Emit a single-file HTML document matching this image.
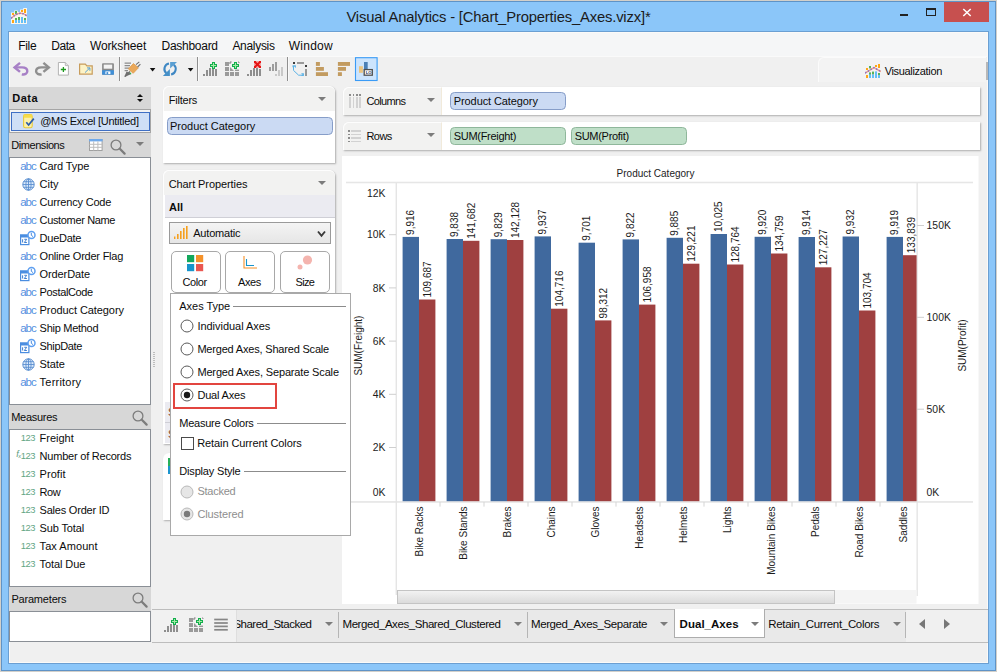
<!DOCTYPE html>
<html lang="en"><head><meta charset="utf-8"><title>Visual Analytics</title>
<style>
*{box-sizing:border-box;margin:0;padding:0}
html,body{width:997px;height:672px;overflow:hidden;background:#8bc6f9}
body{font-family:"Liberation Sans","DejaVu Sans",sans-serif;font-size:12px;color:#0c0c0c;position:relative}
.abs{position:absolute}
.t{position:absolute;white-space:nowrap;line-height:14px;height:14px}
#frame{position:absolute;left:0;top:0;width:997px;height:672px;border:1px solid #d3d0ca;background:#8bc6f9;box-shadow:inset 0 0 0 1px #5f93c6}
#content{position:absolute;left:9px;top:32px;width:979px;height:631px;background:#f0f0f0;outline:1px solid #6b9fd2;border:1px solid #fbfaf8}
#title{position:absolute;left:0;top:5px;width:997px;text-align:center;font-size:17.5px;line-height:22px;color:#1b1b1b;letter-spacing:-0.1px}
#menubar{position:absolute;left:10px;top:33px;width:977px;height:23px;background:#f5f6f7}
#toolbar{position:absolute;left:10px;top:56px;width:977px;height:27px;background:#f0f0f0;border-top:1px solid #fafafa}
.menu{position:absolute;top:39px;font-size:12.5px;line-height:14px;white-space:nowrap}
.sep{position:absolute;width:1px;background:#a9a9a9}
.hdr{position:absolute;background:#d7d7d7}
.list{position:absolute;background:#fff;border:1px solid #8a8f96}
.panel{position:absolute;background:#fff;border-radius:6px 6px 0 0;box-shadow:1px 1px 2px rgba(0,0,0,.28)}
.panel .ph{position:absolute;left:0;top:0;right:0;background:#f2f2f1;border-radius:6px 6px 0 0;border-top:1.5px solid #fdfdfd;border-left:1.5px solid #fdfdfd}
.pill{position:absolute;border-radius:4.5px;height:18px;line-height:15px;padding-left:2px;font-size:12px;white-space:nowrap;overflow:hidden}
.pill.b{background:#cbdaf3;border:1px solid #869dc8}
.pill.g{background:#bfdfc8;border:1px solid #8fb79b}
.dd{position:absolute;width:0;height:0;border-left:4px solid transparent;border-right:4px solid transparent;border-top:4.3px solid #7c7c7c}
.abc{color:#5b8fd0;font-size:11px;letter-spacing:-0.2px}
.num{color:#5aa37f;font-size:9px}
</style></head>
<body>
<div id="frame"></div>
<div id="content"></div>
<svg class="abs" style="left:11px;top:8px" width="16" height="16" viewBox="0 0 16 16">
<path d="M0 4.5 H3.2 V2.5 H6.8 V4 H9 V1.5 H12.2 V0 H16 V16 H0 Z" fill="#f8f6f0"/>
<rect x="1" y="5" width="2" height="2" fill="#ffa615"/><rect x="4" y="3" width="2" height="3" fill="#57b257"/><rect x="10" y="2" width="2" height="2" fill="#ffa615"/><rect x="13" y="1" width="2" height="4" fill="#ffa615"/>
<rect x="1" y="12" width="2" height="3" fill="#ffa615"/><rect x="4" y="10" width="2" height="2" fill="#57b257"/><rect x="4" y="12" width="2" height="3" fill="#63bff7"/><rect x="7" y="9" width="2" height="3" fill="#57b257"/><rect x="7" y="12" width="2" height="3" fill="#63bff7"/><rect x="10" y="9" width="2" height="6" fill="#63bff7"/><rect x="13" y="10" width="2" height="2" fill="#57b257"/><rect x="13" y="12" width="2" height="3" fill="#63bff7"/>
<path d="M0 10.5 Q9 1.5 16 8" stroke="#f2a48c" stroke-width="1.5" fill="none"/><path d="M0 10.5 Q9 1.5 16 8" stroke="#8f72c4" stroke-width="1.5" fill="none" stroke-dasharray="1.6 1.6"/></svg>
<div class="t" style="left:346.4px;top:7.16px;font-size:14.8px;color:#1b1b1b;line-height:20px;height:20px;letter-spacing:-0.17px;">Visual Analytics - [Chart_Properties_Axes.vizx]*</div>
<div class="abs" style="left:900px;top:13.6px;width:8px;height:2.4px;background:#222"></div>
<div class="abs" style="left:926px;top:8px;width:10px;height:8px;border:1px solid #222;border-top-width:2.4px"></div>
<div class="abs" style="left:944px;top:2px;width:45px;height:20px;background:#c7504f"></div>
<svg class="abs" style="left:962px;top:8px" width="10" height="9" viewBox="0 0 10 9"><path d="M1.3 1 L8.7 8 M8.7 1 L1.3 8" stroke="#fff" stroke-width="1.5"/></svg>
<div id="menubar"></div>
<div class="t" style="left:18.2px;top:39.20px;font-size:12px;letter-spacing:-0.31px;">File</div>
<div class="t" style="left:51.3px;top:39.20px;font-size:12px;letter-spacing:-0.46px;">Data</div>
<div class="t" style="left:89.9px;top:39.20px;font-size:12px;letter-spacing:-0.10px;">Worksheet</div>
<div class="t" style="left:161.5px;top:39.20px;font-size:12px;letter-spacing:-0.27px;">Dashboard</div>
<div class="t" style="left:232.4px;top:39.20px;font-size:12px;letter-spacing:-0.30px;">Analysis</div>
<div class="t" style="left:288.7px;top:39.20px;font-size:12px;letter-spacing:0.27px;">Window</div>
<div id="toolbar"></div>
<svg class="abs" style="left:8px;top:56px" width="400" height="28" viewBox="8 56 400 28">
<path d="M20 62.9 L14.6 67.4 L20 71.9" stroke="#a780c6" stroke-width="2.5" fill="none"/><path d="M15.5 67.4 H22 C26.2 67.4 27.3 69.6 27.3 71.2 C27.3 73.6 24.8 75 21.8 74.3" stroke="#a780c6" stroke-width="2.4" fill="none"/>
<path d="M43.4 62.9 L48.8 67.4 L43.4 71.9" stroke="#8f8f8f" stroke-width="2.5" fill="none"/><path d="M47.9 67.4 H41.4 C37.2 67.4 36.1 69.6 36.1 71.2 C36.1 73.6 38.6 75 41.6 74.3" stroke="#8f8f8f" stroke-width="2.4" fill="none"/>
<path d="M58.4 62.5 H65.3 L68.4 65.6 V75.1 H58.4 Z" fill="#fff" stroke="#b3b3b3" stroke-width="1"/><path d="M65.3 62.5 V65.6 H68.4" fill="#e4e4e4" stroke="#b3b3b3" stroke-width=".9"/><path d="M63.4 66.9 V72.1 M60.8 69.5 H66" stroke="#1e9a1e" stroke-width="1.3"/>
<path d="M79.6 64.1 H85.3 L86.9 65.9 H92.2 V74.1 H79.6 Z" fill="#fdf3c6" stroke="#c79c5c" stroke-width="1.2"/><path d="M85 72.6 L89.6 68.1" stroke="#4696d6" stroke-width=".9"/><path d="M87 67.9 H89.9 V70.8" stroke="#4696d6" stroke-width=".9" fill="none"/>
<rect x="102.1" y="63.2" width="11.8" height="11.5" rx=".8" fill="#8a8a8a"/><rect x="102.1" y="70.2" width="11.8" height="4.5" fill="#3f8fd8"/><rect x="103.7" y="64.6" width="8.5" height="4.1" fill="#f4f4f4"/><rect x="105.4" y="71.4" width="5" height="2.7" fill="#fff"/><rect x="106.5" y="72.1" width="1.7" height="2" fill="#3f8fd8"/>
<rect x="119" y="57" width="1" height="24" fill="#8f8f8f"/><rect x="120" y="57" width="1" height="24" fill="#fafafa"/><rect x="197" y="57" width="1" height="24" fill="#8f8f8f"/><rect x="198" y="57" width="1" height="24" fill="#fafafa"/><rect x="287" y="57" width="1" height="24" fill="#8f8f8f"/><rect x="288" y="57" width="1" height="24" fill="#fafafa"/><path d="M124.6 63.2 H131 M124.6 65.7 H130 M124.6 68.2 H129 M124.6 70.7 H128" stroke="#8b8b8b" stroke-width="1.3"/><path d="M124.3 77 L126.5 71.5 L131.5 74 Z" fill="#6f6f6f"/><path d="M125 76.5 L130 71.5" stroke="#6f6f6f" stroke-width="1.6"/><path d="M128.4 68.9 L133.4 63.6 L138.4 67.8 L133.2 73.3 Z" fill="#eaa85a" stroke="#e09a48" stroke-width=".8" stroke-linejoin="round"/><path d="M136 64.6 L139.3 61.9 M137.6 67 L140.4 64.2" stroke="#6f6f6f" stroke-width="1.1"/><rect x="129.8" y="72.8" width="1.3" height="1.3" fill="#2db34a"/>
<path d="M149.79999999999998 68 H155.4 L152.6 71.5 Z" fill="#111"/><path d="M187.79999999999998 68 H193.4 L190.6 71.5 Z" fill="#111"/><path d="M169 63.5 A5.6 5.6 0 0 0 166.3 73.2" stroke="#3f88c4" stroke-width="2.1" fill="none"/><path d="M162.9 75.9 H169.9 V69.1 Z" fill="#4590c8"/><path d="M171.1 74.5 A5.6 5.6 0 0 0 173.8 64.8" stroke="#3f88c4" stroke-width="2.1" fill="none"/><path d="M170.1 62.1 H177 L170.1 68.5 Z" fill="#5a9fd2"/>
<rect x="203" y="74" width="2" height="2" fill="#8e8e8e"/><rect x="206" y="70" width="2" height="6" fill="#8e8e8e"/><rect x="209" y="68" width="2" height="8" fill="#8e8e8e"/><rect x="212" y="68" width="2" height="8" fill="#8e8e8e"/><rect x="215" y="69" width="2" height="7" fill="#8e8e8e"/><path d="M212 62 h3 v2 h2 v3 h-2 v2 h-3 v-2 h-2 v-3 h2 z" fill="#12ae4c"/><path d="M213 63 h1 v2 h2 v1 h-2 v2 h-1 v-2 h-2 v-1 h2 z" fill="#a6eaa6"/>
<rect x="225" y="62" width="4" height="4" fill="#9a9a9a"/><rect x="225" y="67" width="4" height="4" fill="#9a9a9a"/><path d="M230 67 L234 71 H230 Z" fill="#9a9a9a"/><rect x="235" y="69.6" width="4" height="1.4" fill="#9a9a9a"/><rect x="225" y="72" width="4" height="4" fill="#9a9a9a"/><rect x="230" y="72" width="4" height="4" fill="#9a9a9a"/><rect x="235" y="72" width="4" height="4" fill="#9a9a9a"/><path d="M230 64 V62 H231.6 M238.2 62 H239 V62.8" stroke="#7a7a7a" stroke-width="1" fill="none"/><path d="M234 62 h3 v2 h2 v3 h-2 v2 h-3 v-2 h-2 v-3 h2 z" fill="#12ae4c"/><path d="M235 63 h1 v2 h2 v1 h-2 v2 h-1 v-2 h-2 v-1 h2 z" fill="#a6eaa6"/>
<rect x="247" y="74" width="2" height="2" fill="#8e8e8e"/><rect x="250" y="70" width="2" height="6" fill="#8e8e8e"/><rect x="253" y="68" width="2" height="8" fill="#8e8e8e"/><rect x="256" y="68" width="2" height="8" fill="#8e8e8e"/><rect x="259" y="69" width="2" height="7" fill="#8e8e8e"/><rect x="254" y="61" width="7" height="7" fill="#f4a0a0"/><path d="M254.6 61.6 L260.4 67.4 M260.4 61.6 L254.6 67.4" stroke="#e61414" stroke-width="2"/><path d="M254 61.5 h2 M259 61.5 h2 M254 67.5 h2 M259 67.5 h2 M254.5 61 v2 M260.5 61 v2 M254.5 66 v2 M260.5 66 v2" stroke="#e61414" stroke-width="1"/>
<rect x="269" y="67" width="2" height="4" fill="#9d9d9d"/><rect x="272" y="64" width="2" height="7" fill="#9d9d9d"/><rect x="275" y="62" width="2" height="9" fill="#9d9d9d"/><rect x="275" y="74" width="2" height="2" fill="#c9c9c9"/><rect x="278" y="70" width="2" height="6" fill="#c9c9c9"/><rect x="281" y="67" width="2" height="9" fill="#c9c9c9"/><rect x="293" y="62" width="2" height="2" fill="#3c3c3c"/><rect x="305" y="65" width="2" height="2" fill="#3c3c3c"/><rect x="297" y="62" width="7" height="2" fill="#9a9a9a"/><rect x="305" y="69" width="2" height="7" fill="#9a9a9a"/><path d="M293.5 66 V70.4 L298.6 75.2 H303" stroke="#5ab2e6" stroke-width="1" fill="none"/><path d="M292.9 65.2 H295.9 V68 Z M301 73.2 L303.9 73.2 V75.9 Z" fill="#5ab2e6"/><path d="M293 65.3 V67.3 M301.5 75.4 H303.8" stroke="#5ab2e6" stroke-width="1"/>
<rect x="315.9" y="62" width="4" height="3.9" fill="#c29b60"/><rect x="315.9" y="67" width="8" height="3.8" fill="#c29b60"/><rect x="315.9" y="72.2" width="12.1" height="3.8" fill="#c29b60"/><rect x="337.9" y="62" width="12.1" height="3.9" fill="#c29b60"/><rect x="337.9" y="67" width="8.1" height="3.8" fill="#c29b60"/><rect x="337.9" y="72.2" width="4" height="3.8" fill="#c29b60"/>
<rect x="355.5" y="57.7" width="21.6" height="22.8" fill="#cce4fd" stroke="#3a9bf6" stroke-width="1.1"/><rect x="359" y="66.2" width="3.9" height="6.6" fill="#eac480"/><rect x="364" y="62" width="3.7" height="9.6" fill="#4a7fb5"/><rect x="364.2" y="69.6" width="8.1" height="5.6" fill="#fff" stroke="#505050" stroke-width="1.3"/><text x="365.7" y="74.1" font-size="4.2px" font-weight="bold" font-family="Liberation Sans, sans-serif" fill="#1c2d55">LO</text></svg>
<div class="abs" style="left:818px;top:57px;width:168px;height:25px;background:#f3f3f3;border-left:1px solid #fbfbfb;border-top:1px solid #fbfbfb;border-radius:6px 0 0 0"></div>
<div class="abs" style="left:986px;top:62px;width:1.5px;height:18px;background:#b8b8b8"></div>
<svg class="abs" style="left:865px;top:64px" width="16" height="14" viewBox="0 0 16 14">
<rect x="1" y="4" width="2" height="2" fill="#ffa615"/><rect x="4" y="2" width="2" height="2.4" fill="#57b257"/><rect x="10" y="1" width="2" height="2" fill="#ffa615"/><rect x="13" y="0" width="2" height="4" fill="#ffa615"/>
<rect x="1" y="11" width="2" height="3" fill="#ffa615"/><rect x="4" y="8.4" width="2" height="2.4" fill="#57b257"/><rect x="4" y="10.6" width="2" height="3.4" fill="#63bff7"/><rect x="7" y="7.6" width="2" height="3" fill="#57b257"/><rect x="7" y="10.4" width="2" height="3.6" fill="#63bff7"/><rect x="10" y="7.4" width="2" height="6.6" fill="#63bff7"/><rect x="13" y="9" width="2" height="2" fill="#57b257"/><rect x="13" y="11" width="2" height="3" fill="#63bff7"/>
<path d="M0 9 L9 3.6 L16 7.6" stroke="#f2a48c" stroke-width="1.5" fill="none"/><path d="M0 9 L9 3.6 L16 7.6" stroke="#8f72c4" stroke-width="1.5" fill="none" stroke-dasharray="1.6 1.6"/></svg>
<div class="t" style="left:884.7px;top:63.72px;font-size:11px;letter-spacing:-0.33px;">Visualization</div>
<div class="hdr" style="left:9px;top:87px;width:142px;height:22px"></div>
<div class="t" style="left:12.3px;top:91.02px;font-size:11px;font-weight:700;letter-spacing:0.49px;">Data</div>
<div class="abs" style="left:136.5px;top:94px;border-left:3px solid transparent;border-right:3px solid transparent;border-bottom:3.3px solid #111"></div>
<div class="abs" style="left:136.5px;top:98.9px;border-left:3px solid transparent;border-right:3px solid transparent;border-top:3.3px solid #111"></div>
<div class="abs" style="left:9px;top:109px;width:142px;height:24px;background:#f3f3f3;border:1px solid #a5a5a5"></div>
<div class="abs" style="left:11px;top:112px;width:139px;height:19px;background:#cfdff6;border:1px solid #3f6fc4"></div>
<svg class="abs" style="left:23px;top:114px" width="12" height="15" viewBox="0 0 12 15"><rect x=".6" y=".6" width="8.6" height="13.2" rx="1.8" fill="#fdf1a8" stroke="#e8c93a" stroke-width="1.1"/><rect x=".6" y=".6" width="8.6" height="3.2" rx="1.4" fill="#f7dc4a"/><path d="M3.3 8.3 L5.6 11 L10.8 4.6" stroke="#2a5caa" stroke-width="1.7" fill="none"/></svg>
<div class="t" style="left:40.2px;top:114.22px;font-size:11px;letter-spacing:-0.28px;">@MS Excel [Untitled]</div>
<div class="hdr" style="left:9px;top:133px;width:142px;height:24px"></div>
<div class="t" style="left:11.3px;top:138.02px;font-size:11px;letter-spacing:-0.45px;">Dimensions</div>
<svg class="abs" style="left:89px;top:139px" width="14" height="12" viewBox="0 0 14 12"><rect x=".5" y=".5" width="12.6" height="11" fill="#fff" stroke="#a0a0a0"/><rect x="0" y="0" width="13.6" height="2.4" fill="#6fa9ea"/><path d="M.5 5.3 H13 M.5 8.3 H13 M4.7 2.4 V11.5 M8.9 2.4 V11.5" stroke="#bdbdbd" stroke-width="1"/></svg>
<svg class="abs" style="left:110px;top:138.6px" width="16" height="16" viewBox="0 0 16 16"><circle cx="6" cy="6" r="4.9" fill="none" stroke="#7c7c7c" stroke-width="1.3"/><path d="M9.8 9.8 L14.6 14.6" stroke="#7c7c7c" stroke-width="2.2" stroke-linecap="round"/></svg>
<div class="dd" style="left:136px;top:142px"></div>
<div class="list" style="left:9px;top:157px;width:142px;height:248px"></div>
<div class="t" style="left:20.2px;top:158.71px;font-size:11.5px;color:#5590e0;letter-spacing:-0.98px;">abc</div>
<div class="t" style="left:39.6px;top:158.72px;font-size:11px;letter-spacing:-0.10px;">Card Type</div>
<svg class="abs" style="left:22px;top:177.9px" width="13" height="13" viewBox="0 0 13 13"><circle cx="6.5" cy="6.5" r="5.7" fill="#dcebfb" stroke="#5b8fd0" stroke-width="1"/><ellipse cx="6.5" cy="6.5" rx="2.6" ry="5.7" fill="none" stroke="#5b8fd0" stroke-width=".9"/><path d="M6.5 .8 V12.2 M.8 6.5 H12.2 M1.6 3.7 H11.4 M1.6 9.3 H11.4" stroke="#5b8fd0" stroke-width=".9"/></svg>
<div class="t" style="left:39.6px;top:176.72px;font-size:11px;letter-spacing:-0.04px;">City</div>
<div class="t" style="left:20.2px;top:194.71px;font-size:11.5px;color:#5590e0;letter-spacing:-0.98px;">abc</div>
<div class="t" style="left:39.6px;top:194.72px;font-size:11px;letter-spacing:-0.18px;">Currency Code</div>
<div class="t" style="left:20.2px;top:212.71px;font-size:11.5px;color:#5590e0;letter-spacing:-0.98px;">abc</div>
<div class="t" style="left:39.6px;top:212.72px;font-size:11px;letter-spacing:-0.35px;">Customer Name</div>
<svg class="abs" style="left:20px;top:229.9px" width="17" height="16" viewBox="0 0 17 16"><rect x=".6" y="5.1" width="8.3" height="9.5" fill="#fff" stroke="#4a8de0" stroke-width="1.2"/><rect x="0" y="4.5" width="9.5" height="3" fill="#4a8de0"/><path d="M2.6 9.3 v3.2 M4.3 9.3 h2.4 l-2.4 3.2 h2.6" stroke="#3f7fd0" stroke-width="1" fill="none"/><circle cx="11.5" cy="5" r="3.5" fill="#fff" stroke="#5e9ff0" stroke-width="1.5"/><path d="M11.3 2.8 V5.3 L13 6.6" stroke="#4a8de0" stroke-width="1" fill="none"/></svg>
<div class="t" style="left:39.6px;top:230.72px;font-size:11px;letter-spacing:-0.26px;">DueDate</div>
<div class="t" style="left:20.2px;top:248.71px;font-size:11.5px;color:#5590e0;letter-spacing:-0.98px;">abc</div>
<div class="t" style="left:39.6px;top:248.72px;font-size:11px;letter-spacing:-0.23px;">Online Order Flag</div>
<svg class="abs" style="left:20px;top:265.9px" width="17" height="16" viewBox="0 0 17 16"><rect x=".6" y="5.1" width="8.3" height="9.5" fill="#fff" stroke="#4a8de0" stroke-width="1.2"/><rect x="0" y="4.5" width="9.5" height="3" fill="#4a8de0"/><path d="M2.6 9.3 v3.2 M4.3 9.3 h2.4 l-2.4 3.2 h2.6" stroke="#3f7fd0" stroke-width="1" fill="none"/><circle cx="11.5" cy="5" r="3.5" fill="#fff" stroke="#5e9ff0" stroke-width="1.5"/><path d="M11.3 2.8 V5.3 L13 6.6" stroke="#4a8de0" stroke-width="1" fill="none"/></svg>
<div class="t" style="left:39.6px;top:266.72px;font-size:11px;letter-spacing:-0.11px;">OrderDate</div>
<div class="t" style="left:20.2px;top:284.71px;font-size:11.5px;color:#5590e0;letter-spacing:-0.98px;">abc</div>
<div class="t" style="left:39.6px;top:284.72px;font-size:11px;letter-spacing:-0.36px;">PostalCode</div>
<div class="t" style="left:20.2px;top:302.71px;font-size:11.5px;color:#5590e0;letter-spacing:-0.98px;">abc</div>
<div class="t" style="left:39.6px;top:302.72px;font-size:11px;letter-spacing:-0.08px;">Product Category</div>
<div class="t" style="left:20.2px;top:320.71px;font-size:11.5px;color:#5590e0;letter-spacing:-0.98px;">abc</div>
<div class="t" style="left:39.6px;top:320.72px;font-size:11px;letter-spacing:-0.28px;">Ship Method</div>
<svg class="abs" style="left:20px;top:337.9px" width="17" height="16" viewBox="0 0 17 16"><rect x=".6" y="5.1" width="8.3" height="9.5" fill="#fff" stroke="#4a8de0" stroke-width="1.2"/><rect x="0" y="4.5" width="9.5" height="3" fill="#4a8de0"/><path d="M2.6 9.3 v3.2 M4.3 9.3 h2.4 l-2.4 3.2 h2.6" stroke="#3f7fd0" stroke-width="1" fill="none"/><circle cx="11.5" cy="5" r="3.5" fill="#fff" stroke="#5e9ff0" stroke-width="1.5"/><path d="M11.3 2.8 V5.3 L13 6.6" stroke="#4a8de0" stroke-width="1" fill="none"/></svg>
<div class="t" style="left:39.6px;top:338.72px;font-size:11px;letter-spacing:-0.36px;">ShipDate</div>
<svg class="abs" style="left:22px;top:357.9px" width="13" height="13" viewBox="0 0 13 13"><circle cx="6.5" cy="6.5" r="5.7" fill="#dcebfb" stroke="#5b8fd0" stroke-width="1"/><ellipse cx="6.5" cy="6.5" rx="2.6" ry="5.7" fill="none" stroke="#5b8fd0" stroke-width=".9"/><path d="M6.5 .8 V12.2 M.8 6.5 H12.2 M1.6 3.7 H11.4 M1.6 9.3 H11.4" stroke="#5b8fd0" stroke-width=".9"/></svg>
<div class="t" style="left:39.6px;top:356.72px;font-size:11px;letter-spacing:-0.10px;">State</div>
<div class="t" style="left:20.2px;top:374.71px;font-size:11.5px;color:#5590e0;letter-spacing:-0.98px;">abc</div>
<div class="t" style="left:39.6px;top:374.72px;font-size:11px;letter-spacing:0.22px;">Territory</div>
<div class="hdr" style="left:9px;top:405px;width:142px;height:24px"></div>
<div class="t" style="left:11.2px;top:410.12px;font-size:11px;letter-spacing:-0.29px;">Measures</div>
<svg class="abs" style="left:132px;top:410.3px" width="16" height="16" viewBox="0 0 16 16"><circle cx="6" cy="6" r="4.9" fill="none" stroke="#7c7c7c" stroke-width="1.3"/><path d="M9.8 9.8 L14.6 14.6" stroke="#7c7c7c" stroke-width="2.2" stroke-linecap="round"/></svg>
<div class="list" style="left:9px;top:429px;width:142px;height:158px"></div>
<div class="t" style="left:20.8px;top:431.24px;font-size:9.4px;color:#62a584;letter-spacing:-0.49px;">123</div>
<div class="t" style="left:39.6px;top:430.82px;font-size:11px;letter-spacing:-0.02px;">Freight</div>
<div class="t" style="left:16.2px;top:447.1px;font-size:9px;color:#5a9a7a;font-style:italic;letter-spacing:-0.4px">f<span style="font-size:5.5px;position:relative;top:1px">x</span></div><div class="t" style="left:20.8px;top:449.24px;font-size:9.4px;color:#62a584;letter-spacing:-0.49px;">123</div>
<div class="t" style="left:39.6px;top:448.82px;font-size:11px;letter-spacing:-0.22px;">Number of Records</div>
<div class="t" style="left:20.8px;top:467.24px;font-size:9.4px;color:#62a584;letter-spacing:-0.49px;">123</div>
<div class="t" style="left:39.6px;top:466.82px;font-size:11px;letter-spacing:0.04px;">Profit</div>
<div class="t" style="left:20.8px;top:485.24px;font-size:9.4px;color:#62a584;letter-spacing:-0.49px;">123</div>
<div class="t" style="left:39.6px;top:484.82px;font-size:11px;letter-spacing:-0.51px;">Row</div>
<div class="t" style="left:20.8px;top:503.24px;font-size:9.4px;color:#62a584;letter-spacing:-0.49px;">123</div>
<div class="t" style="left:39.6px;top:502.82px;font-size:11px;letter-spacing:-0.22px;">Sales Order ID</div>
<div class="t" style="left:20.8px;top:521.24px;font-size:9.4px;color:#62a584;letter-spacing:-0.49px;">123</div>
<div class="t" style="left:39.6px;top:520.82px;font-size:11px;letter-spacing:-0.14px;">Sub Total</div>
<div class="t" style="left:20.8px;top:539.24px;font-size:9.4px;color:#62a584;letter-spacing:-0.49px;">123</div>
<div class="t" style="left:39.6px;top:538.82px;font-size:11px;letter-spacing:0.05px;">Tax Amount</div>
<div class="t" style="left:20.8px;top:557.24px;font-size:9.4px;color:#62a584;letter-spacing:-0.49px;">123</div>
<div class="t" style="left:39.6px;top:556.82px;font-size:11px;letter-spacing:-0.10px;">Total Due</div>
<div class="hdr" style="left:9px;top:587px;width:142px;height:24px"></div>
<div class="t" style="left:11.4px;top:591.62px;font-size:11px;letter-spacing:-0.19px;">Parameters</div>
<svg class="abs" style="left:132px;top:591.8px" width="16" height="16" viewBox="0 0 16 16"><circle cx="6" cy="6" r="4.9" fill="none" stroke="#7c7c7c" stroke-width="1.3"/><path d="M9.8 9.8 L14.6 14.6" stroke="#7c7c7c" stroke-width="2.2" stroke-linecap="round"/></svg>
<div class="list" style="left:9px;top:611px;width:142px;height:31px"></div>
<div class="abs" style="left:153px;top:352px;width:2px;height:15px;background:repeating-linear-gradient(#bdbdbd 0 1px,transparent 1px 2px)"></div>
<svg class="abs" style="left:342px;top:156px" width="636.5" height="448" viewBox="342 156 636.5 448" font-family="Liberation Sans, Arial, sans-serif" font-size="10px" fill="#1c1c1c">
<rect x="342" y="156" width="636.5" height="448" fill="#fff"/>
<text x="655.5" y="177" text-anchor="middle" font-size="10px">Product Category</text>
<rect x="346" y="181.7" width="627" height="1.6" fill="#e6e6e6"/>
<rect x="351" y="501.2" width="622" height="1.5" fill="#e3e3e3"/>
<rect x="395.6" y="183" width="1.3" height="412" fill="#e3e3e3"/>
<rect x="916.5" y="183" width="1.3" height="413" fill="#e3e3e3"/>
<text x="385.5" y="495.9" text-anchor="end" font-size="10.4px">0K</text>
<rect x="389" y="447.0" width="7" height="1" fill="#cfcfcf"/><text x="385.5" y="451.1" text-anchor="end" font-size="10.4px">2K</text>
<rect x="389" y="393.8" width="7" height="1" fill="#cfcfcf"/><text x="385.5" y="397.9" text-anchor="end" font-size="10.4px">4K</text>
<rect x="389" y="340.6" width="7" height="1" fill="#cfcfcf"/><text x="385.5" y="344.7" text-anchor="end" font-size="10.4px">6K</text>
<rect x="389" y="287.4" width="7" height="1" fill="#cfcfcf"/><text x="385.5" y="291.5" text-anchor="end" font-size="10.4px">8K</text>
<rect x="389" y="234.2" width="7" height="1" fill="#cfcfcf"/><text x="385.5" y="238.3" text-anchor="end" font-size="10.4px">10K</text>
<text x="385.5" y="197.3" text-anchor="end" font-size="10.4px">12K</text>
<text x="926.6" y="495.8" font-size="10.4px">0K</text>
<rect x="917" y="408.7" width="7" height="1" fill="#cfcfcf"/><text x="926.6" y="412.7" font-size="10.4px">50K</text>
<rect x="917" y="316.8" width="7" height="1" fill="#cfcfcf"/><text x="926.6" y="320.8" font-size="10.4px">100K</text>
<rect x="917" y="225.0" width="7" height="1" fill="#cfcfcf"/><text x="926.6" y="229.0" font-size="10.4px">150K</text>
<clipPath id="cp"><rect x="396" y="183" width="520.6" height="420"/></clipPath><g clip-path="url(#cp)">
<rect x="402.6" y="236.9" width="16.4" height="264.3" fill="#40699e"/><rect x="419.0" y="299.5" width="16.4" height="201.7" fill="#9f4040"/>
<rect x="446.6" y="239.0" width="16.4" height="262.2" fill="#40699e"/><rect x="463.0" y="240.8" width="16.4" height="260.4" fill="#9f4040"/>
<rect x="490.6" y="239.2" width="16.4" height="262.0" fill="#40699e"/><rect x="507.0" y="240.0" width="16.4" height="261.2" fill="#9f4040"/>
<rect x="534.6" y="236.4" width="16.4" height="264.8" fill="#40699e"/><rect x="551.0" y="308.7" width="16.4" height="192.5" fill="#9f4040"/>
<rect x="578.6" y="242.7" width="16.4" height="258.5" fill="#40699e"/><rect x="595.0" y="320.4" width="16.4" height="180.8" fill="#9f4040"/>
<rect x="622.6" y="239.4" width="16.4" height="261.8" fill="#40699e"/><rect x="639.0" y="304.6" width="16.4" height="196.6" fill="#9f4040"/>
<rect x="666.6" y="237.8" width="16.4" height="263.4" fill="#40699e"/><rect x="683.0" y="263.7" width="16.4" height="237.5" fill="#9f4040"/>
<rect x="710.6" y="234.0" width="16.4" height="267.2" fill="#40699e"/><rect x="727.0" y="264.5" width="16.4" height="236.7" fill="#9f4040"/>
<rect x="754.6" y="236.8" width="16.4" height="264.4" fill="#40699e"/><rect x="771.0" y="253.5" width="16.4" height="247.7" fill="#9f4040"/>
<rect x="798.6" y="237.0" width="16.4" height="264.2" fill="#40699e"/><rect x="815.0" y="267.3" width="16.4" height="233.9" fill="#9f4040"/>
<rect x="842.6" y="236.5" width="16.4" height="264.7" fill="#40699e"/><rect x="859.0" y="310.5" width="16.4" height="190.7" fill="#9f4040"/>
<rect x="886.6" y="236.9" width="16.4" height="264.3" fill="#40699e"/><rect x="903.0" y="255.2" width="16.4" height="246.0" fill="#9f4040"/>
</g>
<text transform="translate(414.4,234.9) rotate(-90)">9,916</text><text transform="translate(430.8,297.5) rotate(-90)">109,687</text>
<text transform="translate(422.6,506.4) rotate(-90)" text-anchor="end">Bike Racks</text>
<rect x="439.5" y="502" width="1" height="4.6" fill="#d5d5d5"/><text transform="translate(458.4,237.0) rotate(-90)">9,838</text><text transform="translate(474.8,238.8) rotate(-90)">141,682</text>
<text transform="translate(466.6,506.4) rotate(-90)" text-anchor="end">Bike Stands</text>
<rect x="483.5" y="502" width="1" height="4.6" fill="#d5d5d5"/><text transform="translate(502.4,237.2) rotate(-90)">9,829</text><text transform="translate(518.8,238.0) rotate(-90)">142,128</text>
<text transform="translate(510.6,506.4) rotate(-90)" text-anchor="end">Brakes</text>
<rect x="527.5" y="502" width="1" height="4.6" fill="#d5d5d5"/><text transform="translate(546.4,234.4) rotate(-90)">9,937</text><text transform="translate(562.8,306.7) rotate(-90)">104,716</text>
<text transform="translate(554.6,506.4) rotate(-90)" text-anchor="end">Chains</text>
<rect x="571.5" y="502" width="1" height="4.6" fill="#d5d5d5"/><text transform="translate(590.4,240.7) rotate(-90)">9,701</text><text transform="translate(606.8,318.4) rotate(-90)">98,312</text>
<text transform="translate(598.6,506.4) rotate(-90)" text-anchor="end">Gloves</text>
<rect x="615.5" y="502" width="1" height="4.6" fill="#d5d5d5"/><text transform="translate(634.4,237.4) rotate(-90)">9,822</text><text transform="translate(650.8,302.6) rotate(-90)">106,958</text>
<text transform="translate(642.6,506.4) rotate(-90)" text-anchor="end">Headsets</text>
<rect x="659.5" y="502" width="1" height="4.6" fill="#d5d5d5"/><text transform="translate(678.4,235.8) rotate(-90)">9,885</text><text transform="translate(694.8,261.7) rotate(-90)">129,221</text>
<text transform="translate(686.6,506.4) rotate(-90)" text-anchor="end">Helmets</text>
<rect x="703.5" y="502" width="1" height="4.6" fill="#d5d5d5"/><text transform="translate(722.4,232.0) rotate(-90)">10,025</text><text transform="translate(738.8,262.5) rotate(-90)">128,764</text>
<text transform="translate(730.6,506.4) rotate(-90)" text-anchor="end">Lights</text>
<rect x="747.5" y="502" width="1" height="4.6" fill="#d5d5d5"/><text transform="translate(766.4,234.8) rotate(-90)">9,920</text><text transform="translate(782.8,251.5) rotate(-90)">134,759</text>
<text transform="translate(774.6,506.4) rotate(-90)" text-anchor="end">Mountain Bikes</text>
<rect x="791.5" y="502" width="1" height="4.6" fill="#d5d5d5"/><text transform="translate(810.4,235.0) rotate(-90)">9,914</text><text transform="translate(826.8,265.3) rotate(-90)">127,227</text>
<text transform="translate(818.6,506.4) rotate(-90)" text-anchor="end">Pedals</text>
<rect x="835.5" y="502" width="1" height="4.6" fill="#d5d5d5"/><text transform="translate(854.4,234.5) rotate(-90)">9,932</text><text transform="translate(870.8,308.5) rotate(-90)">103,704</text>
<text transform="translate(862.6,506.4) rotate(-90)" text-anchor="end">Road Bikes</text>
<rect x="879.5" y="502" width="1" height="4.6" fill="#d5d5d5"/><text transform="translate(898.4,234.9) rotate(-90)">9,919</text><text transform="translate(914.8,253.2) rotate(-90)">133,839</text>
<text transform="translate(906.6,506.4) rotate(-90)" text-anchor="end">Saddles</text>
<text transform="translate(361.6,345.6) rotate(-90)" text-anchor="middle">SUM(Freight)</text>
<text transform="translate(965.5,345.5) rotate(-90)" text-anchor="middle">SUM(Profit)</text>
<rect x="397" y="590" width="519.5" height="13.6" fill="#f4f4f4"/>
<defs><linearGradient id="sb" x1="0" y1="0" x2="0" y2="1"><stop offset="0" stop-color="#f3f3f3"/><stop offset="1" stop-color="#dadada"/></linearGradient></defs><rect x="397.5" y="590.5" width="437" height="13" fill="url(#sb)" stroke="#c4c4c4" stroke-width="1"/>
</svg>
<div class="panel" style="left:163px;top:86px;width:172px;height:77px"><div class="ph" style="height:25px"></div></div>
<div class="t" style="left:168.8px;top:93.02px;font-size:11px;letter-spacing:-0.24px;">Filters</div>
<div class="dd" style="left:318px;top:97px"></div>
<div class="pill b" style="left:167px;top:117px;width:166px"></div>
<div class="t" style="left:170px;top:118.82px;font-size:11px;letter-spacing:-0.02px;">Product Category</div>
<div class="panel" style="left:163px;top:170px;width:172px;height:274px"><div class="ph" style="height:25px"></div></div>
<div class="t" style="left:168.7px;top:177.02px;font-size:11px;letter-spacing:-0.09px;">Chart Properties</div>
<div class="dd" style="left:318px;top:181px"></div>
<div class="abs" style="left:165px;top:195px;width:170px;height:23px;background:#ebebf1;border-bottom:1px solid #cfcfd6"></div>
<div class="t" style="left:169px;top:199.52px;font-size:11px;font-weight:700;letter-spacing:-0.02px;">All</div>
<div class="abs" style="left:169px;top:222px;width:162px;height:22px;background:linear-gradient(#f4f4f4,#e6e6e6);border:1px solid #9a9a9a"></div>
<svg class="abs" style="left:174px;top:226px" width="15" height="14" viewBox="0 0 15 14"><rect x="0" y="10.5" width="1.4" height="2.5" fill="#f5a01e"/><rect x="3" y="8" width="1.6" height="5" fill="#f5a01e"/><rect x="6" y="5" width="1.6" height="8" fill="#f5a01e"/><rect x="9" y="2" width="1.6" height="11" fill="#f5a01e"/><rect x="12" y="0" width="1.6" height="13" fill="#f5a01e"/></svg>
<div class="t" style="left:193.2px;top:225.82px;font-size:11px;letter-spacing:-0.19px;">Automatic</div>
<svg class="abs" style="left:317px;top:229.5px" width="9" height="8" viewBox="0 0 9 8"><path d="M1 1.5 L4.5 5.8 L8 1.5" stroke="#3a3a3a" stroke-width="1.9" fill="none"/></svg>
<div class="abs" style="left:170.5px;top:251px;width:50px;height:42px;background:#fff;border:1px solid #a8a8a8;border-radius:5px"></div>
<div class="abs" style="left:225px;top:251px;width:50px;height:42px;background:#fff;border:1px solid #a8a8a8;border-radius:5px"></div>
<div class="abs" style="left:280px;top:251px;width:50px;height:42px;background:#fff;border:1px solid #a8a8a8;border-radius:5px"></div>
<div class="t" style="left:182.5px;top:274.82px;font-size:11px;letter-spacing:-0.40px;">Color</div>
<div class="t" style="left:238px;top:274.82px;font-size:11px;letter-spacing:-0.37px;">Axes</div>
<div class="t" style="left:295.6px;top:274.82px;font-size:11px;letter-spacing:-0.68px;">Size</div>
<svg class="abs" style="left:187px;top:255px" width="17" height="17" viewBox="0 0 17 17"><rect x="0" y="0" width="7.2" height="7.2" fill="#14a85c"/><rect x="9" y="0" width="7.2" height="7.2" fill="#f5922a"/><rect x="0" y="9" width="7.2" height="7.2" fill="#1895cc"/><rect x="9" y="9" width="7.2" height="7.2" fill="#ea5650"/></svg>
<svg class="abs" style="left:243px;top:255px" width="15" height="15" viewBox="0 0 15 15"><path d="M1 1 V13 H14" stroke="#f5922a" stroke-width="1.1" fill="none"/><path d="M3.5 4 V10.5 H11" stroke="#1895cc" stroke-width="1.1" fill="none"/></svg>
<svg class="abs" style="left:297px;top:255px" width="16" height="16" viewBox="0 0 16 16"><circle cx="10.5" cy="5" r="4.6" fill="#f4b4ae"/><circle cx="3" cy="12" r="2.5" fill="#f4b4ae"/></svg>
<div class="abs" style="left:165px;top:402px;width:170px;height:21px;background:#ebebf1;border-bottom:1px solid #cfcfd6"></div>
<div class="abs" style="left:165px;top:423px;width:170px;height:20px;background:#ebebf1"></div>
<div class="t" style="left:168px;top:405px;color:#8a4a1a;width:3px;overflow:hidden;font-size:11px">S</div><div class="t" style="left:168px;top:427px;color:#8a4a1a;width:3px;overflow:hidden;font-size:11px">S</div>
<div class="panel" style="left:163px;top:453px;width:172px;height:67px"></div>
<div class="abs" style="left:168px;top:458px;width:3px;height:8px;background:#27b05a"></div><div class="abs" style="left:168px;top:466px;width:3px;height:8px;background:#1b95cf"></div>
<div class="abs" style="left:170px;top:293px;width:181px;height:243px;background:#fff;border:1px solid #a9a9a9"></div>
<div class="t" style="left:179.3px;top:298.82px;font-size:11px;letter-spacing:-0.04px;">Axes Type</div>
<div class="abs" style="left:233.1px;top:305.5px;width:112.9px;height:1px;background:#8c8c8c"></div>
<svg class="abs" style="left:180.4px;top:319.3px" width="14" height="14" viewBox="0 0 14 14"><circle cx="7" cy="7" r="6" fill="#fff" stroke="#5a5a5a" stroke-width="1"/></svg><div class="t" style="left:197.4px;top:318.82px;font-size:11px;letter-spacing:-0.03px;">Individual Axes</div>
<svg class="abs" style="left:180.4px;top:342.3px" width="14" height="14" viewBox="0 0 14 14"><circle cx="7" cy="7" r="6" fill="#fff" stroke="#5a5a5a" stroke-width="1"/></svg><div class="t" style="left:197.4px;top:341.82px;font-size:11px;letter-spacing:-0.19px;">Merged Axes, Shared Scale</div>
<svg class="abs" style="left:180.4px;top:365.3px" width="14" height="14" viewBox="0 0 14 14"><circle cx="7" cy="7" r="6" fill="#fff" stroke="#5a5a5a" stroke-width="1"/></svg><div class="t" style="left:197.4px;top:364.82px;font-size:11px;letter-spacing:-0.15px;">Merged Axes, Separate Scale</div>
<svg class="abs" style="left:180.4px;top:388.3px" width="14" height="14" viewBox="0 0 14 14"><circle cx="7" cy="7" r="6" fill="#fff" stroke="#5a5a5a" stroke-width="1"/><circle cx="7" cy="7" r="3.2" fill="#1a1a1a"/></svg><div class="t" style="left:197.4px;top:387.82px;font-size:11px;letter-spacing:-0.19px;">Dual Axes</div>
<div class="abs" style="left:173px;top:383px;width:104px;height:26px;border:2px solid #e2453f"></div>
<div class="t" style="left:179.3px;top:415.82px;font-size:11px;letter-spacing:-0.24px;">Measure Colors</div>
<div class="abs" style="left:256.6px;top:422.5px;width:89.4px;height:1px;background:#8c8c8c"></div>
<div class="abs" style="left:181px;top:437px;width:13px;height:13px;background:#fff;border:1px solid #4a4a4a"></div>
<div class="t" style="left:197.2px;top:435.82px;font-size:11px;letter-spacing:-0.09px;">Retain Current Colors</div>
<div class="t" style="left:179.3px;top:463.82px;font-size:11px;letter-spacing:-0.18px;">Display Style</div>
<div class="abs" style="left:243.5px;top:470.5px;width:102.5px;height:1px;background:#8c8c8c"></div>
<svg class="abs" style="left:180.4px;top:484.6px" width="14" height="14" viewBox="0 0 14 14"><circle cx="7" cy="7" r="6" fill="#e6e6e6" stroke="#b9b9b9" stroke-width="1"/></svg><div class="t" style="left:197.4px;top:484.12px;font-size:11px;color:#8e8e8e;letter-spacing:-0.24px;">Stacked</div>
<svg class="abs" style="left:180.4px;top:507.3px" width="14" height="14" viewBox="0 0 14 14"><circle cx="7" cy="7" r="6" fill="#e6e6e6" stroke="#b9b9b9" stroke-width="1"/><circle cx="7" cy="7" r="3.2" fill="#7a7a7a"/></svg><div class="t" style="left:197.4px;top:506.82px;font-size:11px;color:#8e8e8e;letter-spacing:-0.10px;">Clustered</div>
<div class="abs" style="left:343px;top:86.5px;width:637px;height:28px;background:#fff;border-radius:6px 0 0 0;box-shadow:1px 1px 2px rgba(0,0,0,.28)"></div>
<div class="abs" style="left:343px;top:86.5px;width:99px;height:28px;background:#f2f2f1;border-radius:6px 0 0 0;border-right:1px solid #f1eadb;border-top:1.5px solid #fdfdfd;border-left:1.5px solid #fdfdfd"></div>
<div class="t" style="left:366.4px;top:93.92px;font-size:11px;letter-spacing:-0.63px;">Columns</div>
<div class="dd" style="left:427px;top:97.5px"></div>
<div class="abs" style="left:348.6px;top:97.1px;width:12.5px;height:10.5px;background:repeating-linear-gradient(90deg,#d2d2d2 0 1.6px,transparent 1.6px 3.5px)"></div>
<div class="abs" style="left:348.6px;top:94.1px;width:12.5px;height:1.6px;background:repeating-linear-gradient(90deg,#8c8c8c 0 1.6px,transparent 1.6px 3.5px)"></div>
<div class="abs" style="left:343px;top:121.5px;width:637px;height:28px;background:#fff;border-radius:6px 0 0 0;box-shadow:1px 1px 2px rgba(0,0,0,.28)"></div>
<div class="abs" style="left:343px;top:121.5px;width:99px;height:28px;background:#f2f2f1;border-radius:6px 0 0 0;border-right:1px solid #f1eadb;border-top:1.5px solid #fdfdfd;border-left:1.5px solid #fdfdfd"></div>
<div class="t" style="left:366.4px;top:128.92px;font-size:11px;letter-spacing:-0.53px;">Rows</div>
<div class="dd" style="left:427px;top:132.5px"></div>
<div class="abs" style="left:351.3px;top:129.5px;width:10px;height:13.5px;background:repeating-linear-gradient(#d2d2d2 0 1.6px,transparent 1.6px 3.5px)"></div>
<div class="abs" style="left:348px;top:129.5px;width:1.6px;height:13.5px;background:repeating-linear-gradient(#8c8c8c 0 1.6px,transparent 1.6px 3.5px)"></div>
<div class="pill b" style="left:450px;top:92.2px;width:116px"></div>
<div class="t" style="left:453.8px;top:94.12px;font-size:11px;letter-spacing:-0.10px;">Product Category</div>
<div class="pill g" style="left:450px;top:127.2px;width:116px"></div>
<div class="t" style="left:453.8px;top:129.02px;font-size:11px;letter-spacing:-0.30px;">SUM(Freight)</div>
<div class="pill g" style="left:571px;top:127.2px;width:116px"></div>
<div class="t" style="left:574.7px;top:129.02px;font-size:11px;letter-spacing:-0.30px;">SUM(Profit)</div>
<div class="abs" style="left:152px;top:609px;width:836px;height:34px;background:#e9e9e9;border-top:1px solid #bdbdbd;border-bottom:1px solid #bdbdbd"></div>
<div class="abs" style="left:152px;top:610px;width:85px;height:32px;background:#f1f1f1;border-right:1px solid #dedede"></div>
<svg class="abs" style="left:160px;top:614px" width="72" height="22" viewBox="160 614 72 22"><rect x="164" y="630" width="2" height="2" fill="#8e8e8e"/><rect x="167" y="626" width="2" height="6" fill="#8e8e8e"/><rect x="170" y="624" width="2" height="8" fill="#8e8e8e"/><rect x="173" y="624" width="2" height="8" fill="#8e8e8e"/><rect x="176" y="625" width="2" height="7" fill="#8e8e8e"/><path d="M173 618 h3 v2 h2 v3 h-2 v2 h-3 v-2 h-2 v-3 h2 z" fill="#12ae4c"/><path d="M174 619 h1 v2 h2 v1 h-2 v2 h-1 v-2 h-2 v-1 h2 z" fill="#a6eaa6"/><rect x="189" y="618" width="4" height="4" fill="#9a9a9a"/><rect x="189" y="623" width="4" height="4" fill="#9a9a9a"/><path d="M194 623 L198 627 H194 Z" fill="#9a9a9a"/><rect x="199" y="625.6" width="4" height="1.4" fill="#9a9a9a"/><rect x="189" y="628" width="4" height="4" fill="#9a9a9a"/><rect x="194" y="628" width="4" height="4" fill="#9a9a9a"/><rect x="199" y="628" width="4" height="4" fill="#9a9a9a"/><path d="M194 620 V618 H195.6 M202.2 618 H203 V618.8" stroke="#7a7a7a" stroke-width="1" fill="none"/><path d="M198 618 h3 v2 h2 v3 h-2 v2 h-3 v-2 h-2 v-3 h2 z" fill="#12ae4c"/><path d="M199 619 h1 v2 h2 v1 h-2 v2 h-1 v-2 h-2 v-1 h2 z" fill="#a6eaa6"/><rect x="214.2" y="618.65" width="13.6" height="1.7" fill="#868686"/><rect x="214.2" y="622.15" width="13.6" height="1.7" fill="#868686"/><rect x="214.2" y="625.55" width="13.6" height="1.7" fill="#868686"/><rect x="214.2" y="628.9499999999999" width="13.6" height="1.7" fill="#868686"/></svg>
<div class="abs" style="left:906px;top:610px;width:82px;height:32px;background:#f0f0f0"></div>
<div class="abs" style="left:674px;top:609px;width:91px;height:29px;background:#fff;border:1px solid #adadad;border-top:none"></div>
<div class="abs" style="left:237px;top:612px;width:76px;height:26px;overflow:hidden"><div class="t"  style="left:-3.6px;top:4.81px;font-size:11.5px;letter-spacing:-0.50px;">Shared_Stacked</div>
</div>
<div class="t" style="left:342.5px;top:616.81px;font-size:11.5px;letter-spacing:-0.43px;">Merged_Axes_Shared_Clustered</div>
<div class="t" style="left:531px;top:616.81px;font-size:11.5px;letter-spacing:-0.40px;">Merged_Axes_Separate</div>
<div class="t" style="left:679.6px;top:616.81px;font-size:11.5px;font-weight:700;letter-spacing:0.02px;">Dual_Axes</div>
<div class="t" style="left:768.3px;top:616.81px;font-size:11.5px;letter-spacing:-0.32px;">Retain_Current_Colors</div>
<div class="dd" style="left:324.5px;top:621.8px"></div>
<div class="dd" style="left:513.5px;top:621.8px"></div>
<div class="dd" style="left:659.5px;top:621.8px"></div>
<div class="dd" style="left:750.5px;top:621.8px"></div>
<div class="dd" style="left:892.5px;top:621.8px"></div>
<div class="sep" style="left:338px;top:612px;height:26px;background:#b5b5b5"></div>
<div class="sep" style="left:527px;top:612px;height:26px;background:#b5b5b5"></div>
<div class="sep" style="left:905px;top:612px;height:26px;background:#b5b5b5"></div>
<div class="abs" style="left:919px;top:619px;border-top:5px solid transparent;border-bottom:5px solid transparent;border-right:6.5px solid #777"></div>
<div class="abs" style="left:944px;top:619px;border-top:5px solid transparent;border-bottom:5px solid transparent;border-left:6.5px solid #777"></div>
</body></html>
